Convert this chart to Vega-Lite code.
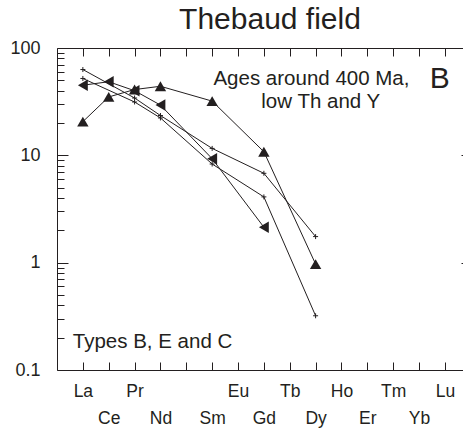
{
  "$schema": "https://vega.github.io/schema/vega-lite/v6.json",
  "width": 406,
  "height": 322,
  "autosize": "none",
  "padding": {"left": 57, "top": 48, "right": 0, "bottom": 64},
  "background": "white",
  "view": {"stroke": null},
  "config": {"font": "Liberation Sans", "text": {"font": "Liberation Sans"}},
  "title": {"text": "Thebaud field", "fontSize": 30, "fontWeight": "normal", "font": "Liberation Sans", "color": "#231f20", "anchor": "middle", "frame": "group", "dx": 10, "baseline": "bottom", "offset": -26},
  "datasets": {
    "ree": [
      {"series": "A", "element": "La", "i": 0, "value": 20.6},
      {"series": "A", "element": "Ce", "i": 1, "value": 35},
      {"series": "A", "element": "Pr", "i": 2, "value": 41},
      {"series": "A", "element": "Nd", "i": 3, "value": 44},
      {"series": "A", "element": "Sm", "i": 5, "value": 32},
      {"series": "A", "element": "Gd", "i": 7, "value": 10.8},
      {"series": "A", "element": "Dy", "i": 9, "value": 0.97},
      {"series": "B", "element": "La", "i": 0, "value": 45},
      {"series": "B", "element": "Ce", "i": 1, "value": 48.5},
      {"series": "B", "element": "Pr", "i": 2, "value": 40},
      {"series": "B", "element": "Nd", "i": 3, "value": 29.4},
      {"series": "B", "element": "Sm", "i": 5, "value": 9.3},
      {"series": "B", "element": "Gd", "i": 7, "value": 2.14},
      {"series": "C", "element": "La", "i": 0, "value": 63},
      {"series": "C", "element": "Pr", "i": 2, "value": 34.2},
      {"series": "C", "element": "Nd", "i": 3, "value": 23.5},
      {"series": "C", "element": "Sm", "i": 5, "value": 11.6},
      {"series": "C", "element": "Gd", "i": 7, "value": 6.8},
      {"series": "C", "element": "Dy", "i": 9, "value": 1.75},
      {"series": "D", "element": "La", "i": 0, "value": 52},
      {"series": "D", "element": "Pr", "i": 2, "value": 31.4},
      {"series": "D", "element": "Nd", "i": 3, "value": 22.3},
      {"series": "D", "element": "Sm", "i": 5, "value": 8.3},
      {"series": "D", "element": "Gd", "i": 7, "value": 4.1},
      {"series": "D", "element": "Dy", "i": 9, "value": 0.32}
    ]
  },
  "resolve": {"axis": {"x": "independent", "y": "independent"}},
  "layer": [
    {
      "data": {"name": "ree"},
      "mark": {"type": "line", "color": "#231f20", "strokeWidth": 1},
      "encoding": {
        "x": {"field": "i", "type": "quantitative",
          "scale": {"domain": [-1, 14.7], "nice": false, "zero": false},
          "axis": {"orient": "bottom", "title": null, "grid": false, "values": [0,1,2,3,4,5,6,7,8,9,10,11,12,13,14],
            "labelExpr": "['La','Ce','Pr','Nd','','Sm','Eu','Gd','Tb','Dy','Ho','Er','Tm','Yb','Lu'][datum.value]",
            "tickSize": -8, "labelPadding": {"condition": {"test": "datum.value % 2 == 1", "value": 47}, "value": 20},
            "labelFontSize": 17.5, "labelColor": "#231f20", "labelFont": "Liberation Sans", "labelOverlap": false, "labelFlush": false,
            "tickColor": "#231f20", "domainColor": "#231f20"}},
        "y": {"field": "value", "type": "quantitative",
          "scale": {"type": "log", "domain": [0.1, 100], "nice": false},
          "axis": {"orient": "left", "title": null, "grid": false,
            "values": [0.1,0.2,0.3,0.4,0.5,0.6,0.7,0.8,0.9,1,2,3,4,5,6,7,8,9,10,20,30,40,50,60,70,80,90,100],
            "labelExpr": "datum.value == 100 ? '100' : datum.value == 10 ? '10' : datum.value == 1 ? '1' : datum.value == 0.1 ? '0.1' : ''",
            "tickSize": {"condition": {"test": "indexof([0.1,1,10,100], datum.value) >= 0", "value": -11}, "value": -7},
            "labelPadding": 28, "labelFontSize": 18, "labelColor": "#231f20", "labelFont": "Liberation Sans", "labelOverlap": false, "labelFlush": false,
            "tickColor": "#231f20", "domainColor": "#231f20"}},
        "detail": {"field": "series"}
      }
    },
    {
      "data": {"name": "ree"},
      "transform": [{"filter": "datum.series == 'A' || datum.series == 'B'"}],
      "mark": {"type": "point", "filled": true, "color": "#231f20", "opacity": 1, "size": 130},
      "encoding": {
        "x": {"field": "i", "type": "quantitative",
          "axis": {"orient": "top", "title": null, "grid": false, "labels": false, "values": [0,1,2,3,4,5,6,7,8,9,10,11,12,13,14], "tickSize": -8, "tickColor": "#231f20", "domainColor": "#231f20"}},
        "y": {"field": "value", "type": "quantitative",
          "axis": {"orient": "right", "title": null, "grid": false, "labels": false, "domain": false, "values": [0.1,1,10,100], "tickSize": -2, "tickColor": "#231f20"}},
        "shape": {"field": "series", "type": "nominal", "scale": {"domain": ["A", "B"], "range": ["triangle-up", "triangle-left"]}, "legend": null}
      }
    },
    {
      "data": {"name": "ree"},
      "transform": [{"filter": "datum.series == 'C' || datum.series == 'D'"}],
      "mark": {"type": "point", "filled": false, "stroke": "#231f20", "strokeWidth": 1, "opacity": 1, "size": 25, "shape": "M -1 0 L 1 0 M 0 -1 L 0 1"},
      "encoding": {
        "x": {"field": "i", "type": "quantitative", "axis": null},
        "y": {"field": "value", "type": "quantitative", "axis": null}
      }
    },
    {
      "data": {"values": [
        {"label": "Ages around 400 Ma,", "i": 8.84, "value": 45.2},
        {"label": "low Th and Y", "i": 9.2, "value": 27.6}
      ]},
      "mark": {"type": "text", "fontSize": 20.5, "align": "center", "baseline": "alphabetic", "color": "#231f20", "font": "Liberation Sans"},
      "encoding": {
        "x": {"field": "i", "type": "quantitative", "axis": null},
        "y": {"field": "value", "type": "quantitative", "axis": null},
        "text": {"field": "label"}
      }
    },
    {
      "data": {"values": [
        {"label": "Types B, E and C", "i": -0.39, "value": 0.16}
      ]},
      "mark": {"type": "text", "fontSize": 20.5, "align": "left", "baseline": "alphabetic", "color": "#231f20", "font": "Liberation Sans"},
      "encoding": {
        "x": {"field": "i", "type": "quantitative", "axis": null},
        "y": {"field": "value", "type": "quantitative", "axis": null},
        "text": {"field": "label"}
      }
    },
    {
      "data": {"values": [
        {"label": "B", "i": 13.8, "value": 42.4}
      ]},
      "mark": {"type": "text", "fontSize": 30, "align": "center", "baseline": "alphabetic", "color": "#231f20", "font": "Liberation Sans"},
      "encoding": {
        "x": {"field": "i", "type": "quantitative", "axis": null},
        "y": {"field": "value", "type": "quantitative", "axis": null},
        "text": {"field": "label"}
      }
    }
  ]
}
